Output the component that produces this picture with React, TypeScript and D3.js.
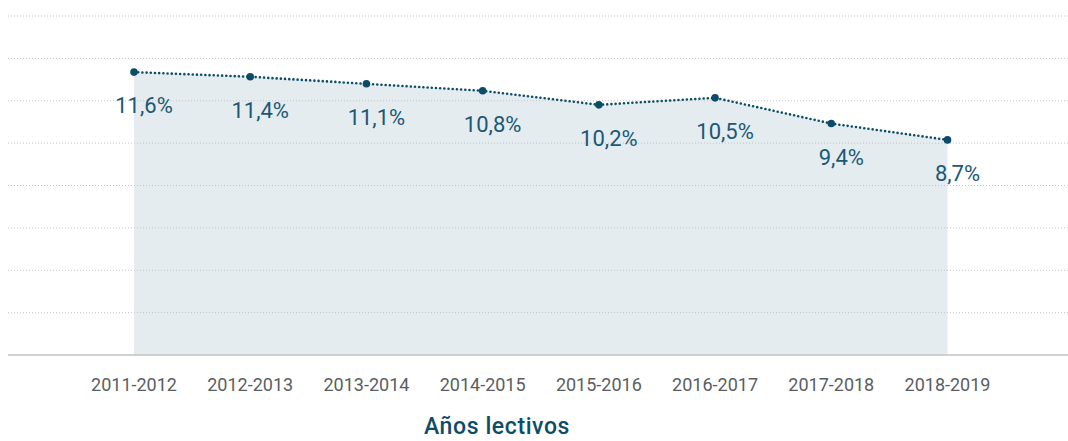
import React from "react";
import * as d3 from "d3";

const categories = ["2011-2012", "2012-2013", "2013-2014", "2014-2015", "2015-2016", "2016-2017", "2017-2018", "2018-2019"];
const values = [11.6, 11.4, 11.1, 10.8, 10.2, 10.5, 9.4, 8.7];
const valueLabels = ["11,6%", "11,4%", "11,1%", "10,8%", "10,2%", "10,5%", "9,4%", "8,7%"];
const gridCount = 8;
const axisTitle = "Años lectivos";

const W = 1068;
const H = 441;

export default function App() {
  const x = d3.scalePoint<string>().domain(categories).range([134, 947.5]);
  const y = d3.scaleLinear().domain([-0.5, 14]).range([355, 16]);
  const gridVals = d3.range(0, gridCount).map((i) => -0.5 + ((14 + 0.5) / gridCount) * (gridCount - i));
  const pts = categories.map((c, i) => [x(c) as number, y(values[i])] as [number, number]);
  const line = d3.line<[number, number]>().x((d) => d[0]).y((d) => d[1]);
  const area = d3.area<[number, number]>().x((d) => d[0]).y0(y(-0.5)).y1((d) => d[1]);
  const dark = "#0b4d68";
  return (
    <svg width={W} height={H} style={{ position: "absolute", left: 0, top: 0, background: "#fff" }}>
      <path d={area(pts) || ""} fill="#e4ecf0" />
      {gridVals.map((g, i) => (
        <line key={i} x1={8} x2={W} y1={y(g)} y2={y(g)} stroke="#c4c4c4" strokeWidth={1} strokeDasharray="1 2" />
      ))}
      <line x1={8} x2={W} y1={y(-0.5)} y2={y(-0.5)} stroke="#c2c2c2" strokeWidth={1.5} />
      <path d={line(pts) || ""} fill="none" stroke={dark} strokeWidth={2.6} strokeDasharray="0 4.2" strokeLinecap="round" />
      {pts.map((p, i) => (
        <circle key={i} cx={p[0]} cy={p[1]} r={3.8} fill={dark} />
      ))}
      {pts.map((p, i) => (
        <text key={i} x={p[0] + 10} y={p[1] + 41} textAnchor="middle" fontFamily="Roboto" fontSize={22} fill="#1b5875">
          {valueLabels[i]}
        </text>
      ))}
      {categories.map((c) => (
        <text key={c} x={x(c) as number} y={391} textAnchor="middle" fontFamily="Roboto" fontSize={18} fill="#5a5d62">
          {c}
        </text>
      ))}
      <text x={497} y={434} textAnchor="middle" fontFamily="Roboto" fontWeight={500} fontSize={23} letterSpacing={0.6} fill="#0f4c68">
        {axisTitle}
      </text>
    </svg>
  );
}
